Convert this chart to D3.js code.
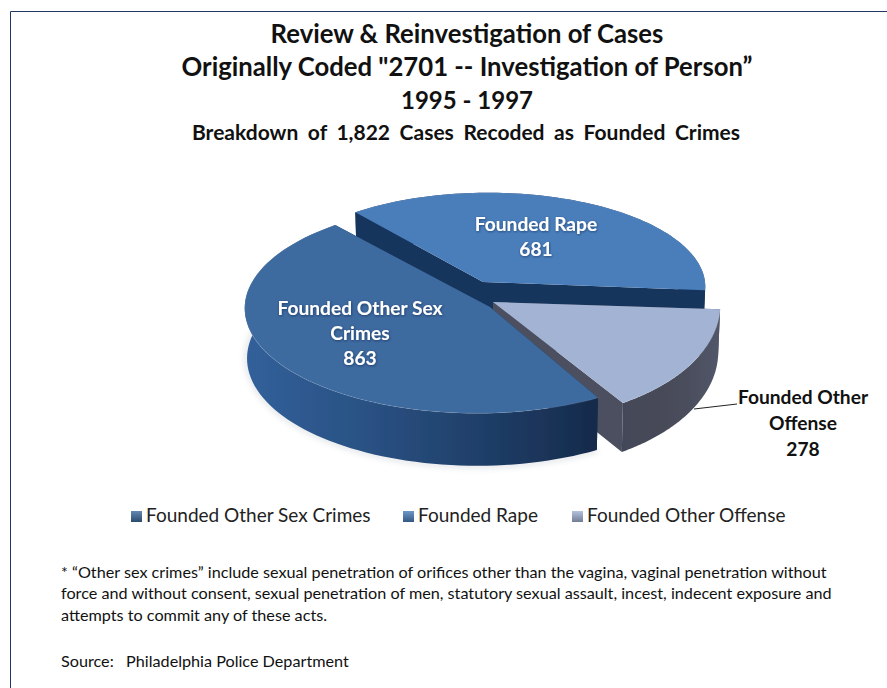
<!DOCTYPE html>
<html>
<head>
<meta charset="utf-8">
<script src="https://cdn.jsdelivr.net/npm/d3@7"></script>
<style>
  html, body { margin: 0; padding: 0; background: #fff; }
  svg { display: block; }
  text { font-family: Lato, "Open Sans", sans-serif; white-space: pre; }
</style>
</head>
<body>
<svg id="chart" width="887" height="688"></svg>
<script>
const categories = ['Founded Other Sex Crimes', 'Founded Rape', 'Founded Other Offense']
const values = [863, 681, 278]
const labelLines = [['Founded Other Sex', 'Crimes'], ['Founded Rape'], ['Founded Other', 'Offense']]
const titleLines = ['Review & Reinvestigation of Cases', 'Originally Coded "2701 -- Investigation of Person\u201d', '1995 - 1997']
const subtitle = 'Breakdown of 1,822 Cases Recoded as Founded Crimes'
const noteLines = [
  '* \u201cOther sex crimes\u201d include sexual penetration of orifices other than the vagina, vaginal penetration without',
  'force and without consent, sexual penetration of men, statutory sexual assault, incest, indecent exposure and',
  'attempts to commit any of these acts.',
]
const source = 'Source:   Philadelphia Police Department'

// each slice is pulled out and foreshortened on its own, fitted by eye
const geom = [
  { cx: 477, cy: 303, rx: 232, ry: 105, ax: 490, ay: 307, depth: 50, labelX: 360, labelY: 315 },
  { cx: 488, cy: 282, rx: 217, ry: 94, ax: 483, ay: 282, depth: 48, labelX: 536, labelY: 231 },
  { cx: 517, cy: 299, rx: 203, ry: 115, ax: 493, ay: 302, depth: 47, labelX: 803, labelY: 404 },
]
const topColors = ['#3d6a9f', '#4a7ebb', '#a2b3d4']
const faceColors = ['#1c3a63', '#19355c', '#4b4f5e']
const wallStops = [
  ['#31609a', '#2a5284', '#1f3f69', '#162a4a'],
  ['#19355c', '#19355c', '#19355c', '#19355c'],
  ['#43475a', '#464a58', '#4a4e5c', '#52566a'],
]
const noteY = [578, 599, 621]
const perspective = 0.05
const firstAngle = 150 * Math.PI / 180

const svg = d3.select('#chart')
const defs = svg.append('defs')

const blur = defs.append('filter').attr('id', 'blur').attr('x', '-10%').attr('y', '-10%').attr('width', '120%').attr('height', '130%')
blur.append('feGaussianBlur').attr('stdDeviation', 3)
const soft = defs.append('filter').attr('id', 'soft')
soft.append('feGaussianBlur').attr('stdDeviation', 0.35)
const glow = defs.append('filter').attr('id', 'textShadow').attr('x', '-10%').attr('y', '-20%').attr('width', '120%').attr('height', '140%')
glow.append('feDropShadow').attr('dx', 0.5).attr('dy', 0.8).attr('stdDeviation', 0.8).attr('flood-color', '#10233f').attr('flood-opacity', 0.6)

wallStops.forEach((stops, i) => {
  const grad = defs.append('linearGradient').attr('id', `wall${i}`)
  stops.forEach((c, j) => {
    grad.append('stop').attr('offset', j / (stops.length - 1)).attr('stop-color', c)
  })
  const marker = defs.append('linearGradient').attr('id', `marker${i}`).attr('x2', 0).attr('y2', 1)
  marker.append('stop').attr('offset', 0).attr('stop-color', d3.interpolateRgb(topColors[i], '#fff')(0.2))
  marker.append('stop').attr('offset', 1).attr('stop-color', d3.interpolateRgb(topColors[i], '#000')(0.3))
})

// frame
svg.append('path')
  .attr('d', 'M10.5,688V11.5H887')
  .attr('fill', 'none')
  .attr('stroke', '#1f3864')
  .attr('stroke-width', 1)

// titles
svg.append('g').selectAll('text')
  .data(titleLines)
  .join('text')
  .attr('x', 467)
  .attr('y', (d, i) => 43 + i * 33)
  .attr('text-anchor', 'middle')
  .attr('font-size', (d, i) => i === 2 ? 24 : 25.7)
  .attr('font-weight', 700)
  .attr('fill', '#111')
  .text(d => d)

svg.append('text')
  .attr('x', 466)
  .attr('y', 140)
  .attr('text-anchor', 'middle')
  .attr('font-size', 21)
  .attr('font-weight', 700)
  .attr('word-spacing', 4.5)
  .attr('fill', '#111')
  .text(subtitle)

// pie
const pie = d3.pie()
  .sort(null)
  .value(d => d)
  .startAngle(firstAngle)
  .endAngle(firstAngle + 2 * Math.PI)

const slices = pie(values)
const line = d3.line()

function rimPoint(g, a, drop) {
  const X = Math.sin(a)
  const Y = -Math.cos(a)
  const s = 1 + perspective * Y
  const shrink = drop ? 0.99 : 1
  return [
    g.cx + g.rx * X * s * shrink,
    g.cy + g.ry * Y * s + (drop ? g.depth * s : 0),
  ]
}

function rimPoints(g, d, drop) {
  const n = 80
  return d3.range(n + 1).map(i => rimPoint(g, d.startAngle + (d.endAngle - d.startAngle) * i / n, drop))
}

const pieGroup = svg.append('g')

// soft shadow beneath the body
const bodyShadow = rimPoints(geom[0], slices[0], true)
pieGroup.append('path')
  .attr('d', line(bodyShadow))
  .attr('fill', 'none')
  .attr('stroke', '#9aa3b0')
  .attr('stroke-width', 3)
  .attr('opacity', 0.5)
  .attr('filter', 'url(#blur)')

// back to front: rape, other offense, then the big slice covers the cut face
const drawOrder = [1, 2, 0]
drawOrder.forEach(i => {
  const g = geom[i]
  const d = slices[i]
  const top = rimPoints(g, d, false)
  const bottom = rimPoints(g, d, true)
  const apex = [g.ax, g.ay]
  const apexLow = [g.ax, g.ay + g.depth]
  const group = pieGroup.append('g').attr('filter', 'url(#soft)')

  group.append('path')
    .attr('d', line([apex, top[0], bottom[0], apexLow]) + 'Z')
    .attr('fill', faceColors[i])
  group.append('path')
    .attr('d', line([apex, top[top.length - 1], bottom[bottom.length - 1], apexLow]) + 'Z')
    .attr('fill', faceColors[i])
  group.append('path')
    .attr('d', line(top.concat(bottom.slice().reverse())) + 'Z')
    .attr('fill', `url(#wall${i})`)
  group.append('path')
    .attr('d', line([apex].concat(top)) + 'Z')
    .attr('fill', topColors[i])
  group.append('path')
    .attr('d', line(top))
    .attr('fill', 'none')
    .attr('stroke', '#fff')
    .attr('stroke-opacity', 0.08)
    .attr('stroke-width', 1.2)
})

// slice labels
geom.forEach((g, i) => {
  const lines = labelLines[i].concat(String(values[i]))
  const outside = i === 2
  svg.append('g').selectAll('text')
    .data(lines)
    .join('text')
    .attr('x', g.labelX)
    .attr('y', (d, j) => g.labelY + j * (outside ? 26 : 25))
    .attr('text-anchor', 'middle')
    .attr('font-size', 19.2)
    .attr('font-weight', 700)
    .attr('fill', outside ? '#111' : '#fff')
    .attr('filter', outside ? null : 'url(#textShadow)')
    .text(d => d)
})

// leader
svg.append('path')
  .attr('d', line([[694, 409], [737, 404]]))
  .attr('fill', 'none')
  .attr('stroke', '#222')
  .attr('stroke-width', 1)

// legend
const legendX = [131, 403, 572]
const legend = svg.append('g').selectAll('g')
  .data(categories)
  .join('g')
  .attr('transform', (d, i) => `translate(${legendX[i]},511)`)

legend.append('rect')
  .attr('width', 11)
  .attr('height', 11)
  .attr('fill', (d, i) => `url(#marker${i})`)

legend.append('text')
  .attr('x', 15)
  .attr('y', 11)
  .attr('font-size', 19)
  .attr('fill', '#222')
  .text(d => d)

// footnote
svg.append('g').selectAll('text')
  .data(noteLines)
  .join('text')
  .attr('x', 61)
  .attr('y', (d, i) => noteY[i])
  .attr('font-size', 16.2)
  .attr('fill', '#111')
  .text(d => d)

svg.append('text')
  .attr('x', 61)
  .attr('y', 667)
  .attr('font-size', 16.2)
  .attr('fill', '#111')
  .text(source)
</script>
</body>
</html>
